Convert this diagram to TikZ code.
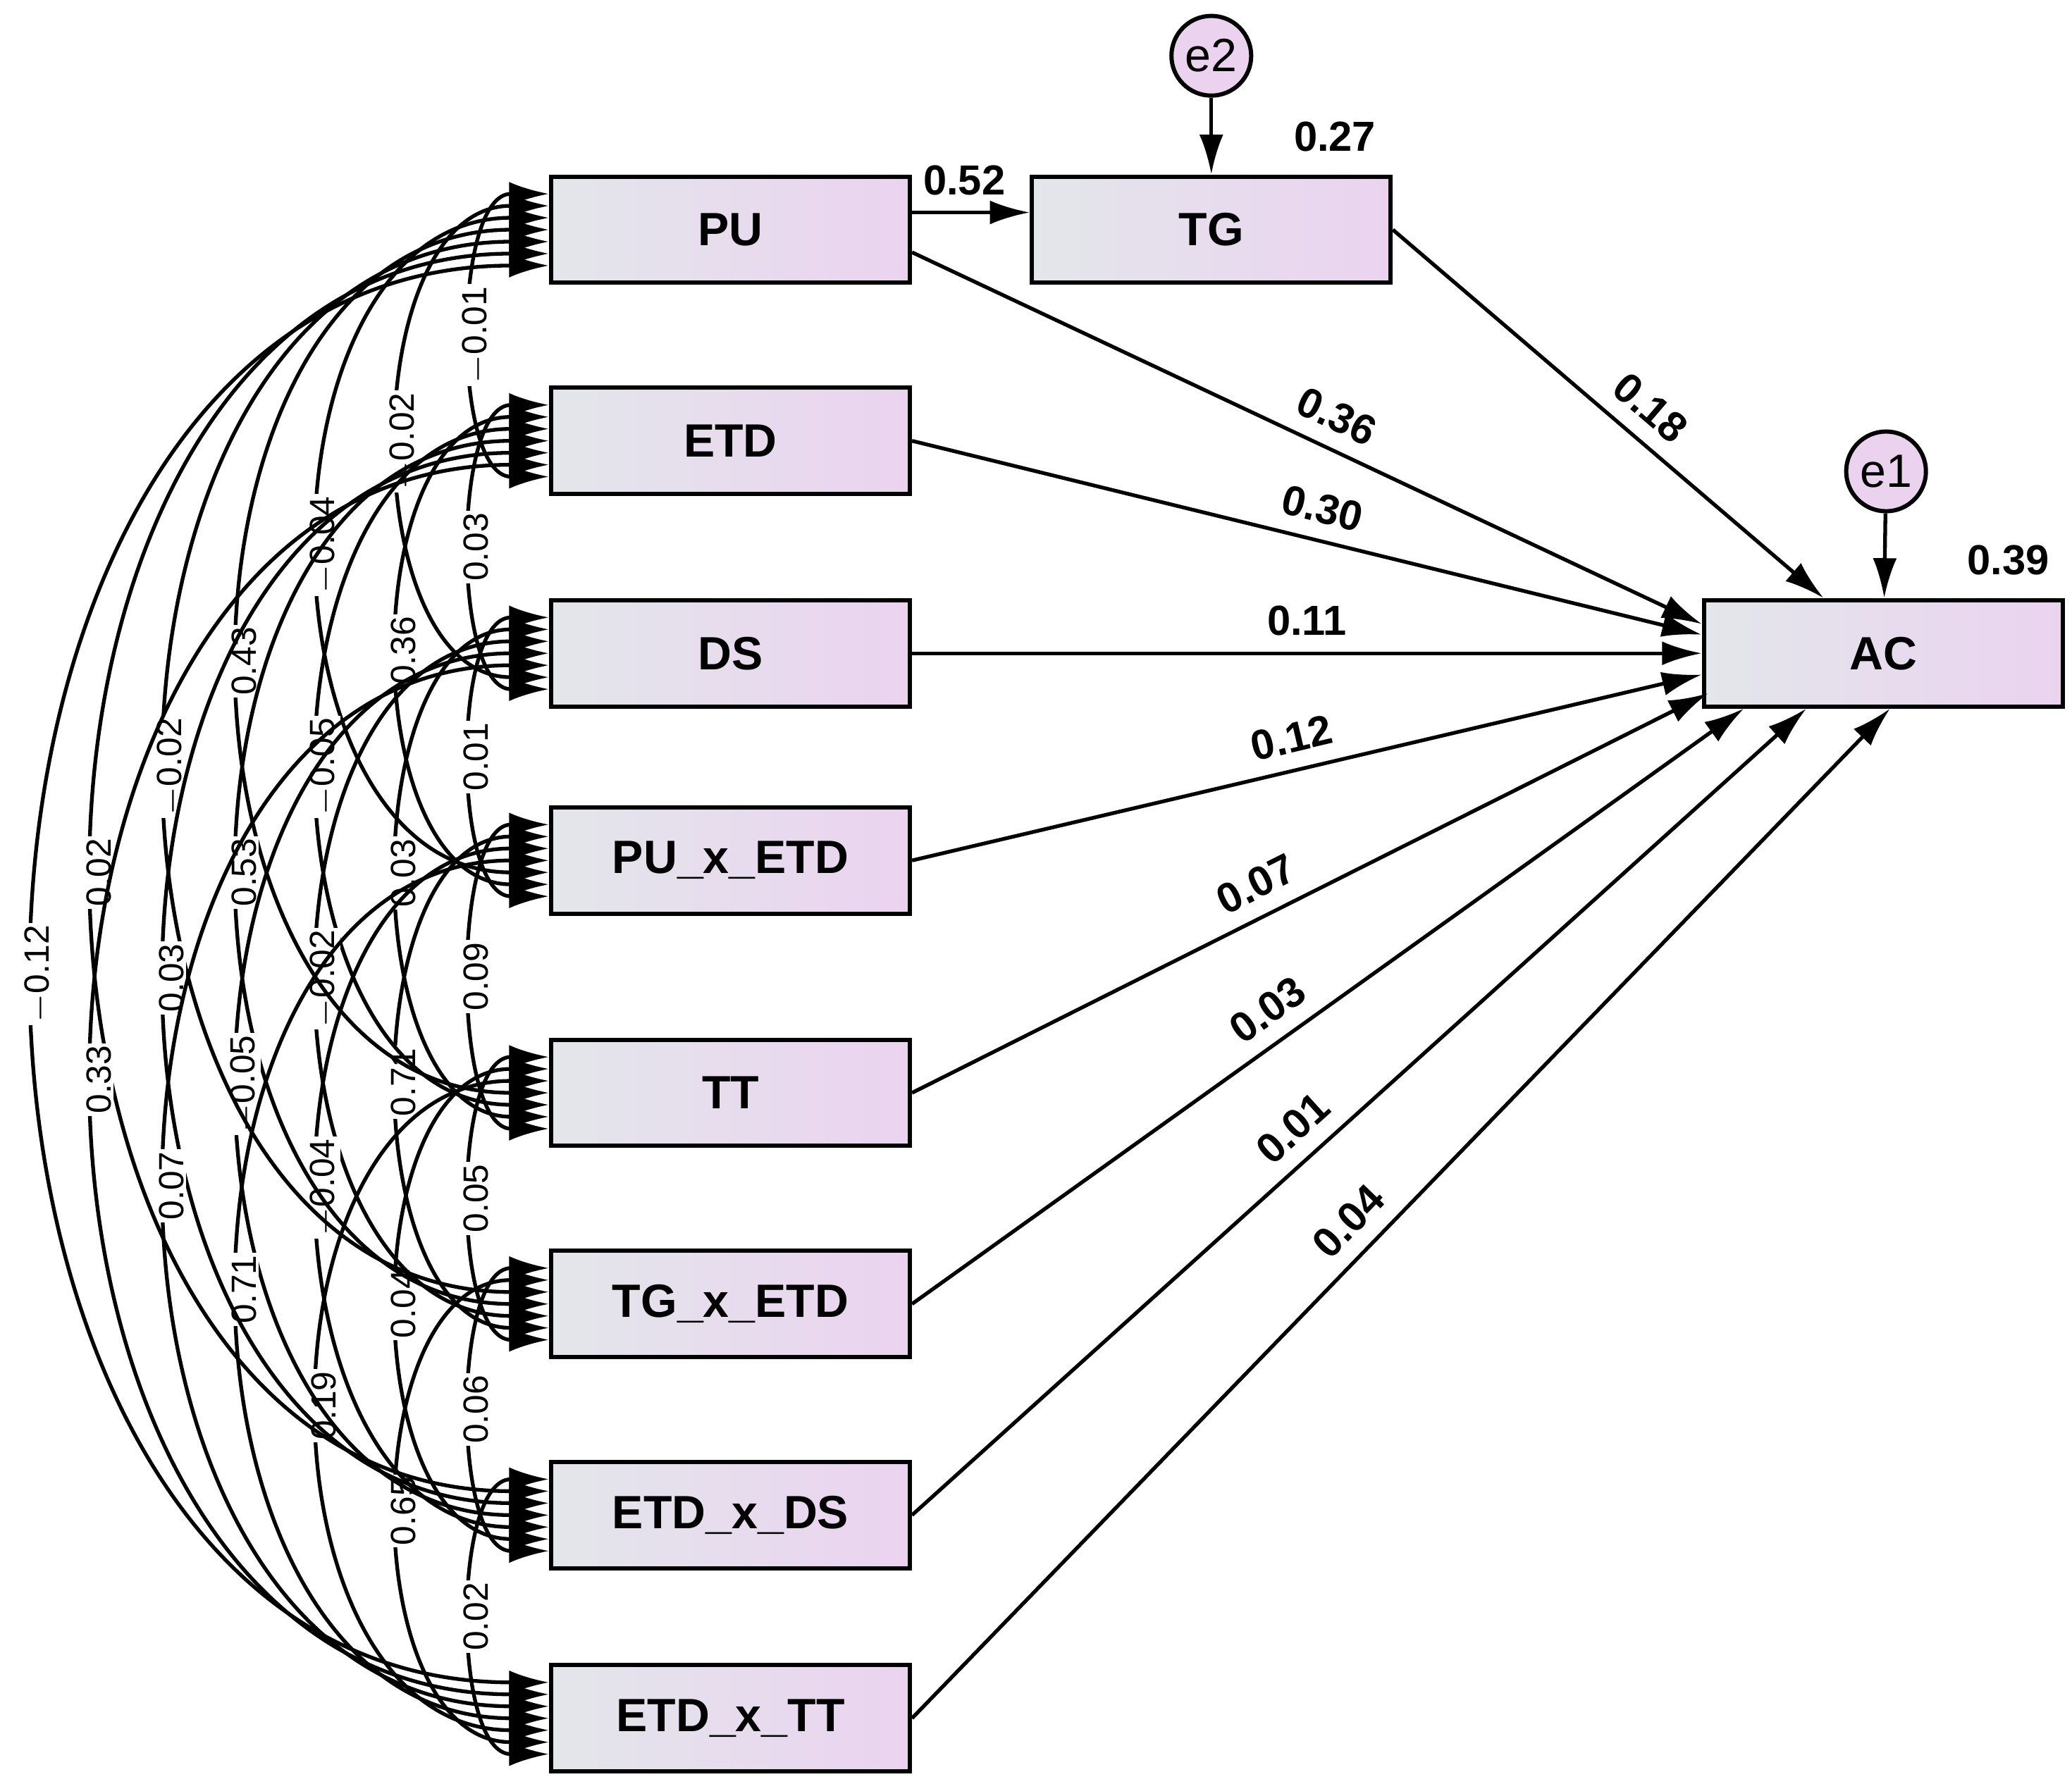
\documentclass[tikz,border=0pt]{standalone}
\usepackage{fontspec}
\setmainfont{Liberation Sans}
\usetikzlibrary{arrows.meta,calc}
\definecolor{boxl}{HTML}{E3E6EA}
\definecolor{boxr}{HTML}{EBD3F0}
\begin{document}
\begin{tikzpicture}[x=0.01cm,y=-0.01cm,
 box/.style={draw=black,line width=0.9pt,minimum width=2.7cm,minimum height=0.8cm,left color=boxl,right color=boxr,font=\bfseries\fontsize{10}{12}\selectfont},
 err/.style={circle,draw=black,line width=0.9pt,fill=boxr,minimum size=0.6cm,inner sep=0pt,font=\fontsize{10}{12}\selectfont},
 tip/.tip={Latex[length=0.3cm,width=0.18cm]},
 path/.style={line width=0.8pt,-tip},
 cov/.style={line width=0.8pt,tip-tip},
 cl/.style={fill=white,inner sep=0.5pt,sloped,font=\fontsize{7.5}{9}\selectfont},
 pl/.style={font=\bfseries\fontsize{9}{11}\selectfont},
]
\useasboundingbox (0,0) rectangle (1560,1343);
\node[box] (PU) at (550,173) {PU};
\node[box] (ETD) at (550,332) {ETD};
\node[box] (DS) at (550,492) {DS};
\node[box] (PE) at (550,648) {PU\_x\_ETD};
\node[box] (TT) at (550,823) {TT};
\node[box] (TE) at (550,982) {TG\_x\_ETD};
\node[box] (ED) at (550,1141) {ETD\_x\_DS};
\node[box] (ETT) at (550,1294) {ETD\_x\_TT};
\node[box] (TG) at (912,173) {TG};
\node[box] (AC) at (1418,492) {AC};
\node[err] (e2) at (912,42) {e2};
\node[err] (e1) at (1420,355) {e1};
\draw[path] (e2) -- (TG);
\draw[path] (e1) -- (AC);
\node[pl] (r2) at (1005,103) {0.27};
\node[pl] (r1) at (1512,422) {0.39};
\draw[path] ([yshift=0.13cm]PU.east) -- node[pl,above,pos=0.5,xshift=-0.05cm] {0.52} ([yshift=0.13cm]TG.west);
\draw[path] (TG.east) -- node[pl,above,sloped,pos=0.55] {0.18} ([xshift=-0.45cm]AC.north);
\draw[path] ([yshift=-0.17cm]PU.east) -- node[pl,above,sloped,pos=0.52] {0.36} ([yshift=0.22cm]AC.west);
\draw[path] (ETD.east) -- node[pl,above,sloped,pos=0.51] {0.30} ([yshift=0.14cm]AC.west);
\draw[path] (DS.east) -- node[pl,above,pos=0.5] {0.11} (AC.west);
\draw[path] (PE.east) -- node[pl,above,sloped,pos=0.49] {0.12} ([yshift=-0.16cm]AC.west);
\draw[path] (TT.east) -- node[pl,above,sloped,pos=0.45] {0.07} ([yshift=-0.3cm,xshift=0.05cm]AC.west);
\draw[path] (TE.east) -- node[pl,above,sloped,pos=0.45] {0.03} ([xshift=-1.05cm]AC.south);
\draw[path] (ED.east) -- node[pl,above,sloped,pos=0.45] {0.01} ([xshift=-0.58cm]AC.south);
\draw[path] (ETT.east) -- node[pl,above,sloped,pos=0.47] {0.04} ([xshift=0.05cm]AC.south);
\newcommand\covv[5]{\draw[cov] ([yshift={(#3-4)*0.09cm}]#2.west) .. controls +(-#4,0) and +(-#4,0) .. node[cl] {#5} ([yshift={(4-#3)*0.09cm}]#1.west);}
% span 1
\covv{PU}{ETD}{1}{73}{$-$0.01}
\covv{ETD}{DS}{1}{73}{0.03}
\covv{DS}{PE}{1}{73}{0.01}
\covv{PE}{TT}{1}{73}{0.09}
\covv{TT}{TE}{1}{73}{0.05}
\covv{TE}{ED}{1}{73}{0.06}
\covv{ED}{ETT}{1}{73}{0.02}
% span 2
\covv{PU}{DS}{2}{146}{$-$0.02}
\covv{ETD}{PE}{2}{146}{0.36}
\covv{DS}{TT}{2}{146}{0.03}
\covv{PE}{TE}{2}{146}{0.71}
\covv{TT}{ED}{2}{146}{0.04}
\covv{TE}{ETT}{2}{146}{0.65}
% span 3
\covv{PU}{PE}{3}{226}{$-$0.04}
\covv{ETD}{TT}{3}{226}{$-$0.05}
\covv{DS}{TE}{3}{226}{$-$0.02}
\covv{PE}{ED}{3}{226}{$-$0.04}
\covv{TT}{ETT}{3}{226}{0.19}
% span 4
\covv{PU}{TT}{4}{306}{0.43}
\covv{ETD}{TE}{4}{306}{0.53}
\covv{DS}{ED}{4}{306}{$-$0.05}
\covv{PE}{ETT}{4}{306}{0.71}
% span 5
\covv{PU}{TE}{5}{379}{$-$0.02}
\covv{ETD}{ED}{5}{379}{0.03}
\covv{DS}{ETT}{5}{379}{0.07}
% span 6
\covv{PU}{ED}{6}{452}{0.02}
\covv{ETD}{ETT}{6}{452}{0.33}
% span 7
\covv{PU}{ETT}{7}{512}{$-$0.12}
\end{tikzpicture}
\end{document}
